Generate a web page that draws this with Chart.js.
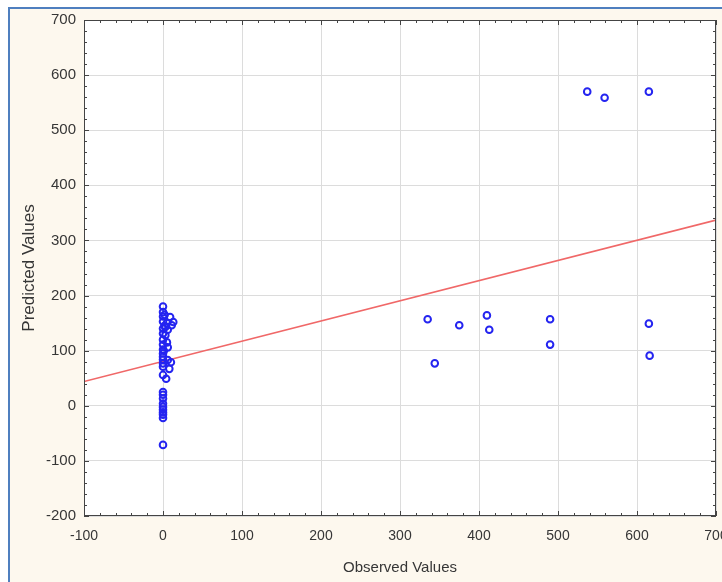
<!DOCTYPE html>
<html lang="en">
<head>
    <meta charset="UTF-8">
    <title>Observed vs Predicted</title>
    <script src="https://cdn.jsdelivr.net/npm/chart.js"></script>
    <style>
        body { margin: 0; background: #fff; overflow: hidden; width: 722px; height: 582px; position: relative; }
        #moldura { position: absolute; left: 8px; top: 7px; width: 800px; height: 700px;
                   border-left: 2px solid #4f7fbf; border-top: 2px solid #4f7fbf; background: #fdf8ee; }
        #caixa { position: absolute; left: 0; top: 0; width: 760px; height: 582px; }
    </style>
</head>
<body>
    <div id="moldura"></div>
    <div id="caixa"><canvas id="grafico"></canvas></div>

    <script>
        const observados = [
            0, 0, 0, 0, 0, 0, 0, 0, 0, 0, 0, 0, 0, 0, 0, 0, 0, 0, 0, 0, 0, 0, 0, 0, 0,
            2, 9, 13, 11, 5, 3, 6, 5, 6, 6, 10, 8, 4, 1, 3, 2,
            335, 344, 375, 410, 413, 490, 490, 537, 559, 615, 615, 616
        ];
        const preditos = [
            180, 170, 162, 153, 140, 131, 120, 111, 102, 95, 89, 84, 77, 71, 56, 25, 20, 13, 4, -2, -7, -12, -16, -22, -71,
            165, 161, 152, 146, 150, 143, 138, 115, 106, 83, 79, 67, 49, 100, 128, 145,
            157, 77, 146, 164, 138, 157, 111, 570, 559, 570, 149, 91
        ];
        // reta de regressao
        const retaX = [-100, 700];
        const retaY = [44, 337];

        const xTicks = [-100, 0, 100, 200, 300, 400, 500, 600, 700];
        const yTicks = [-200, -100, 0, 100, 200, 300, 400, 500, 600, 700];

        const corTexto = '#363636';
        const fonte = "'Liberation Sans', Arial, sans-serif";

        // fundo branco, moldura e marcas menores dentro da area
        const moldura = {
            id: 'moldura',
            beforeDraw(chart) {
                const a = chart.chartArea, ctx = chart.ctx;
                ctx.save();
                ctx.fillStyle = '#ffffff';
                ctx.fillRect(a.left, a.top, a.right - a.left, a.bottom - a.top);
                ctx.restore();
            },
            afterDraw(chart) {
                const a = chart.chartArea, ctx = chart.ctx;
                const sx = chart.scales.x, sy = chart.scales.y;
                ctx.save();
                ctx.strokeStyle = '#444';
                ctx.lineWidth = 1;
                ctx.strokeRect(a.left + 0.5, a.top + 0.5, a.right - a.left - 1, a.bottom - a.top - 1);
                ctx.beginPath();
                for (let v = -100; v <= 700; v += 20) {
                    const px = Math.round(sx.getPixelForValue(v)) + 0.5;
                    const len = v % 100 === 0 ? 5 : 3;
                    ctx.moveTo(px, a.bottom); ctx.lineTo(px, a.bottom - len);
                    ctx.moveTo(px, a.top); ctx.lineTo(px, a.top + len);
                }
                for (let v = -200; v <= 700; v += 20) {
                    const py = Math.round(sy.getPixelForValue(v)) + 0.5;
                    const len = v % 100 === 0 ? 5 : 3;
                    ctx.moveTo(a.left, py); ctx.lineTo(a.left + len, py);
                    ctx.moveTo(a.right, py); ctx.lineTo(a.right - len, py);
                }
                ctx.stroke();
                ctx.restore();
            }
        };

        window.onload = function() {
            const ctx = document.getElementById('grafico').getContext('2d');
            new Chart(ctx, {
                type: 'scatter',
                data: {
                    datasets: [{
                        label: 'Valores',
                        data: observados.map((x, i) => ({ x: x, y: preditos[i] })),
                        pointStyle: 'circle',
                        pointRadius: 3.3,
                        pointBorderWidth: 2,
                        borderColor: '#2424f0',
                        backgroundColor: 'rgba(255,255,255,0)'
                    }, {
                        type: 'line',
                        label: 'Regressao',
                        data: retaX.map((x, i) => ({ x: x, y: retaY[i] })),
                        borderColor: '#f06868',
                        borderWidth: 1.6,
                        pointRadius: 0,
                        fill: false
                    }]
                },
                options: {
                    responsive: true,
                    maintainAspectRatio: false,
                    animation: false,
                    layout: { padding: { left: 0, top: 20, right: 44, bottom: 0 } },
                    plugins: { legend: { display: false }, tooltip: { enabled: false } },
                    scales: {
                        x: {
                            type: 'linear',
                            min: -100, max: 700,
                            afterFit: s => { s.height = 66; },
                            afterBuildTicks: s => { s.ticks = xTicks.map(v => ({ value: v })); },
                            grid: { color: '#dcdcdc', drawTicks: false },
                            border: { display: false },
                            ticks: { padding: 12, color: corTexto, font: { family: fonte, size: 14 } },
                            title: { display: true, text: 'Observed Values', color: corTexto,
                                     padding: { top: 0, bottom: 5 },
                                     font: { family: fonte, size: 15 } }
                        },
                        y: {
                            min: -200, max: 700,
                            afterFit: s => { s.width = 84; },
                            afterBuildTicks: s => { s.ticks = yTicks.map(v => ({ value: v })); },
                            grid: { color: '#dcdcdc', drawTicks: false },
                            border: { display: false },
                            ticks: { padding: 8, color: corTexto, font: { family: fonte, size: 15 } },
                            title: { display: true, text: 'Predicted Values', color: corTexto,
                                     padding: { top: 19, bottom: 0 },
                                     font: { family: fonte, size: 17 } }
                        }
                    }
                },
                plugins: [moldura]
            });
        };
    </script>
</body>
</html>
